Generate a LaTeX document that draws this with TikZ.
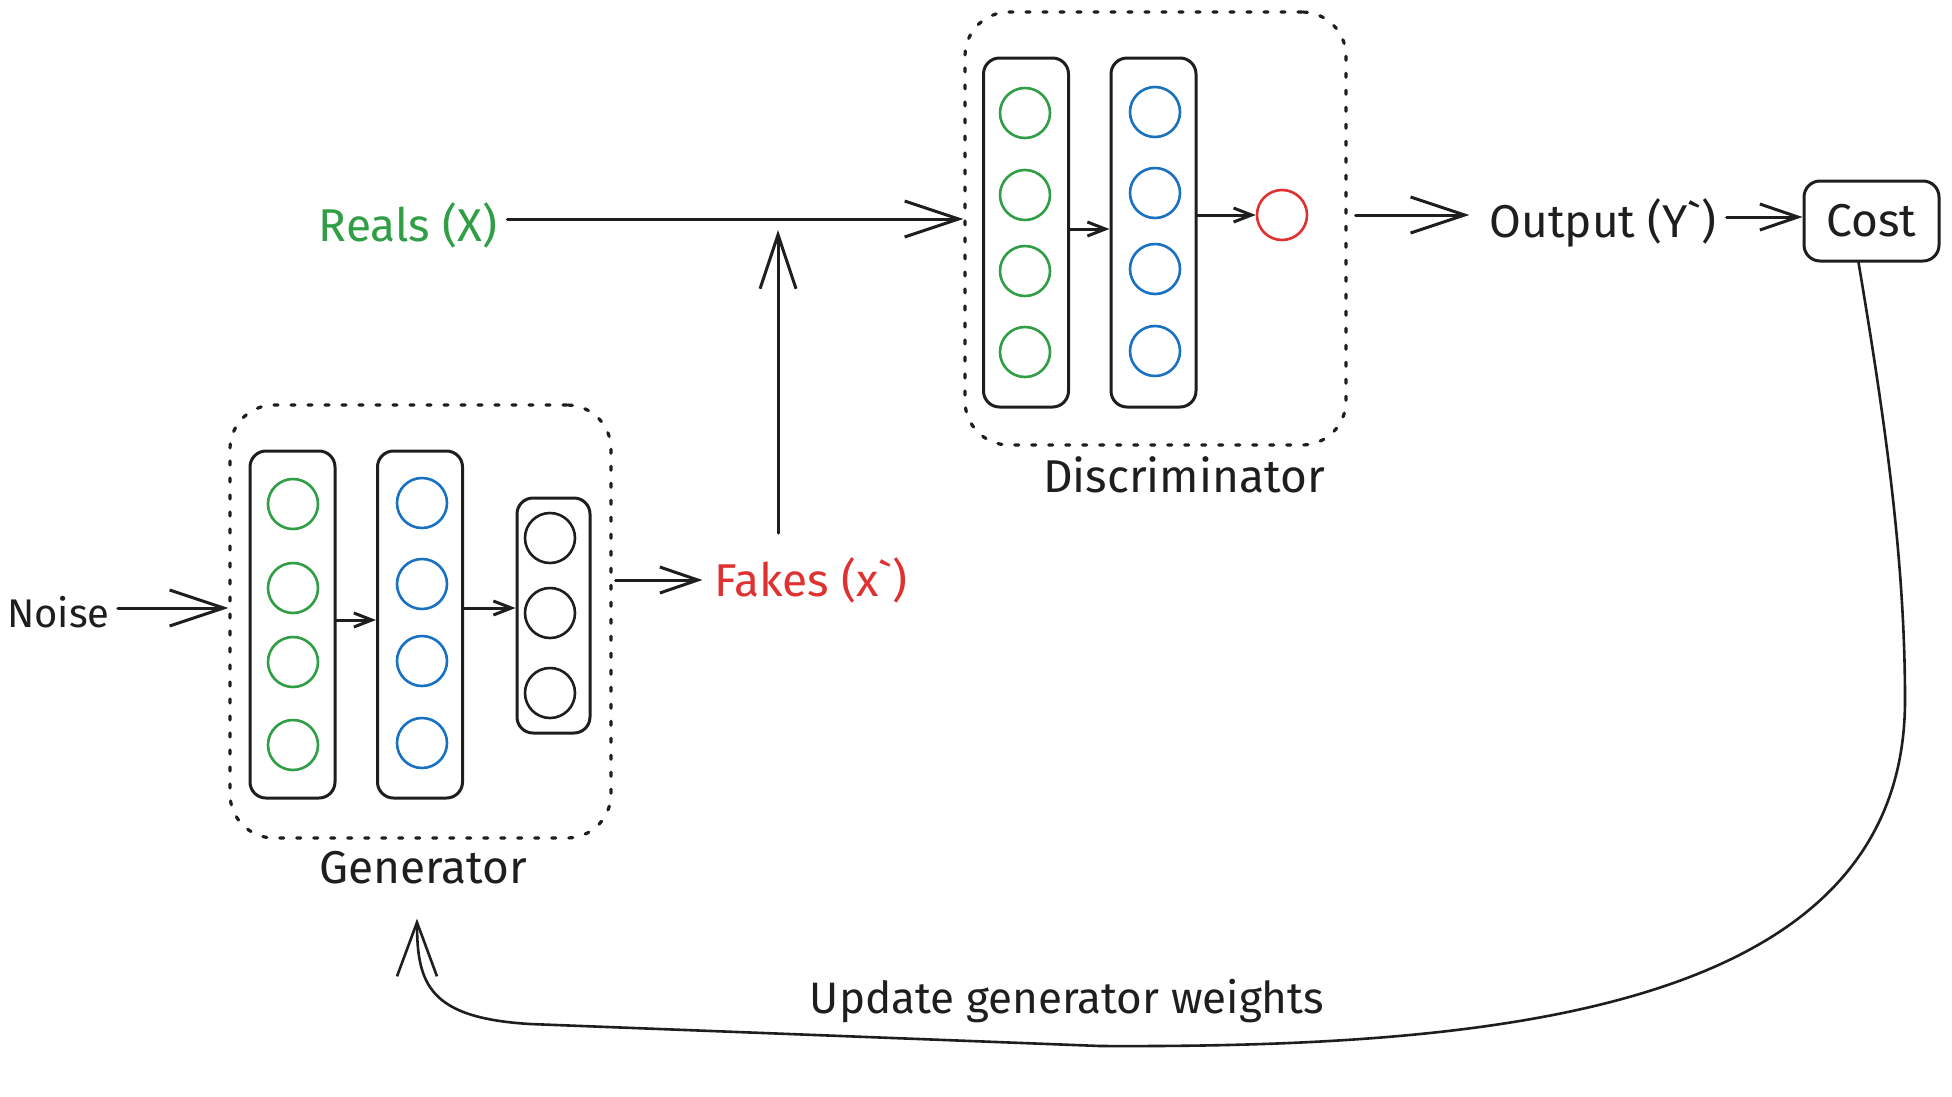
\documentclass[tikz,border=0pt]{standalone}
\usepackage{fontspec}
\setmainfont{Fira Sans}
\usetikzlibrary{arrows.meta,calc}
\definecolor{ink}{HTML}{1E1E1E}
\definecolor{eg}{HTML}{2F9E44}
\definecolor{eb}{HTML}{1971C2}
\definecolor{er}{HTML}{E03131}
\tikzset{
  base/.style={draw=ink, line width=3pt, line cap=round},
  bigarr/.style={base, -{Straight Barb[length=54pt,width=36pt]}},
  medarr/.style={base, -{Straight Barb[length=38pt,width=26pt]}},
  smallarr/.style={base, -{Straight Barb[length=18pt,width=14pt]}},
  colbox/.style={draw=ink, line width=3pt, rounded corners=16pt, inner sep=0pt, minimum width=85pt},
  group/.style={draw=ink, line width=3.2pt, dash pattern=on 4pt off 13pt, line cap=round, rounded corners=44pt, inner sep=0pt, minimum width=381pt, minimum height=433pt},
  neuron/.style={circle, line width=2.6pt, minimum size=50pt, inner sep=0pt},
  txt/.style={font=\fontsize{46}{54}\selectfont, text=ink, inner sep=0pt},
}
\begin{document}
\begin{tikzpicture}[x=1pt,y=-1pt]
\fill[white] (0,0) rectangle (1952,1096);
\useasboundingbox (0,0) rectangle (1952,1096);

% ---------- Generator ----------
\node[group] (gen) at (420.5,621.5) {};
\node[colbox, minimum height=347pt] (g1) at (292.5,624.5) {};
\node[colbox, minimum height=347pt] (g2) at (420,624.5) {};
\node[colbox, minimum height=235pt, minimum width=73pt] (g3) at (553.5,615.5) {};
\foreach \y [count=\i] in {504,588,662,745} \node[neuron, draw=eg] (ga\i) at (293,\y) {};
\foreach \y [count=\i] in {503,584,661,743} \node[neuron, draw=eb] (gb\i) at (422,\y) {};
\foreach \y [count=\i] in {538,613,693} \node[neuron, draw=ink] (gc\i) at (550,\y) {};
\node[txt] (genlabel) at (423,868) {Generator};

% ---------- Discriminator ----------
\node[group] (disc) at (1155.5,228.5) {};
\node[colbox, minimum height=349pt] (d1) at (1026,232.5) {};
\node[colbox, minimum height=349pt] (d2) at (1153.5,232.5) {};
\foreach \y [count=\i] in {113,195,271,352} \node[neuron, draw=eg] (da\i) at (1025,\y) {};
\foreach \y [count=\i] in {112,193,269,351} \node[neuron, draw=eb] (db\i) at (1155,\y) {};
\node[neuron, draw=er] (dout) at (1282,215) {};
\node[txt] (disclabel) at (1184,475) {Discriminator};

% ---------- Texts ----------
\node[txt, font=\fontsize{40}{48}\selectfont, anchor=west] (noise) at (7,612) {Noise};
\node[txt, text=eg] (reals) at (408,225) {Reals (X)};
\node[txt, text=er] (fakes) at (811,580) {Fakes (x\textasciigrave)};
\node[txt] (output) at (1603,223) {Output (Y\textasciigrave)};
\node[txt, draw=ink, line width=3pt, rounded corners=16pt, minimum width=135pt, minimum height=80pt] (cost) at (1871.5,221) {Cost};
\node[txt, font=\fontsize{44}{52}\selectfont] (update) at (1067,1001) {Update generator weights};

% ---------- Connectors ----------
\draw[bigarr, shorten <=8pt] (noise.east |- 0,608) -- (gen.west |- 0,608);
\draw[smallarr] (g1.east |- 0,620) -- (g2.west |- 0,620);
\draw[smallarr] (g2.east |- 0,608) -- (g3.west |- 0,608);
\draw[medarr, shorten <=3pt, shorten >=12pt] (gen.east |- fakes.west) -- (fakes.west);
\coordinate (upfoot) at (778,533);
\coordinate (uptip) at (778,230);
\draw[bigarr] (upfoot) -- (uptip);
\draw[bigarr, shorten <=10pt] (reals.east |- 0,219) -- (disc.west |- 0,219);
\draw[smallarr] (d1.east |- 0,229) -- (d2.west |- 0,229);
\draw[smallarr] (d2.east |- dout.west) -- (dout.west);
\draw[bigarr, shorten <=8pt, shorten >=20pt] (disc.east |- 0,215) -- (output.west |- 0,215);
\draw[medarr, shorten <=10pt] (output.east |- 0,217) -- (cost.west |- 0,217);
\coordinate (fbstart) at ($(cost.south)+(-13,0)$);
\coordinate (fbtip) at ($(genlabel.south)+(-6,34)$);
\draw[base, line width=2.6pt, -{Straight Barb[length=54pt,width=40pt]}]
  (fbstart) .. controls (1885,420) and (1905,560) .. (1905,700)
  .. controls (1905,1010) and (1500,1048) .. (1100,1046)
  -- (530,1024) .. controls (430,1018) and (417,985) .. (fbtip);
\end{tikzpicture}
\end{document}
